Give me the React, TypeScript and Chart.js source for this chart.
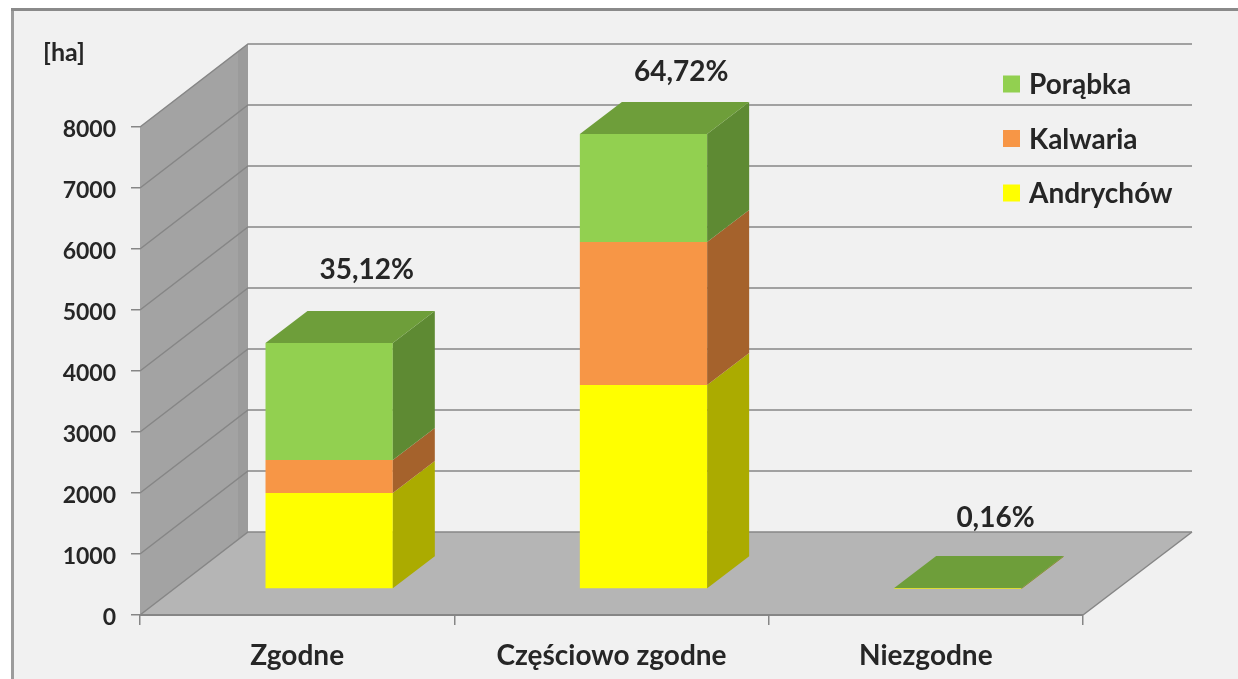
import React, { useEffect, useRef } from "react";
import { Chart, registerables } from "chart.js";

Chart.register(...registerables);

const categories = ["Zgodne", "Częściowo zgodne", "Niezgodne"];
const andrychow = [1574, 3344, 4];
const kalwaria = [541, 2344, 3];
const porabka = [1918, 1770, 11];
const shareLabels = ["35,12%", "64,72%", "0,16%"];
const seriesNames = ["Andrychów", "Kalwaria", "Porąbka"];
const unitLabel = "[ha]";

const FONT = "Lato, Carlito, Calibri, sans-serif";
const TEXT = "#262626";
const LINE = "#868686";
const FRONT = ["#FFFF00", "#F79646", "#92D050"];
const SIDE = ["#ABAB00", "#A5622C", "#5E8A33"];
const TOP = "#6E9E3A";
const DEPTH = { x: 108, y: -83 };
const BAR_DEPTH = { x: 42, y: -32 };
const BAR_SHIFT = { x: 32, y: -26 };
const LABEL_LIFT = [99, 88, 96];

function poly(ctx: CanvasRenderingContext2D, pts: number[][], fill: string) {
  ctx.beginPath();
  pts.forEach((p, i) => (i ? ctx.lineTo(p[0], p[1]) : ctx.moveTo(p[0], p[1])));
  ctx.closePath();
  ctx.fillStyle = fill;
  ctx.fill();
}

const scenePlugin = {
  id: "scene3d",
  beforeDraw(chart: any) {
    const { ctx, chartArea: a, scales, width, height } = chart;
    ctx.save();
    ctx.fillStyle = "#ffffff";
    ctx.fillRect(0, 0, width, height);
    ctx.fillStyle = "#f1f1f1";
    ctx.fillRect(12, 9, width, height);
    ctx.fillStyle = "#9c9c9c";
    ctx.fillRect(11, 9, 3, height);
    ctx.fillStyle = "#8a8a8a";
    ctx.fillRect(11, 8, width, 3);

    const backL = a.left + DEPTH.x;
    const backR = a.right + DEPTH.x + 1;
    poly(ctx, [[a.left, a.bottom], [backL, a.bottom + DEPTH.y], [backL, a.top + DEPTH.y], [a.left, a.top]], "#a3a3a3");
    const strip = 10;
    const k = DEPTH.y / DEPTH.x;
    poly(ctx, [
      [backL - strip, a.bottom + DEPTH.y - strip * k],
      [backL, a.bottom + DEPTH.y],
      [backL, a.top + DEPTH.y],
      [backL - strip, a.top + DEPTH.y - strip * k],
    ], "#9b9b9b");
    poly(ctx, [[a.left, a.bottom], [a.right, a.bottom], [backR, a.bottom + DEPTH.y], [backL, a.bottom + DEPTH.y]], "#b5b5b5");

    const yScale = scales.y;
    ctx.strokeStyle = LINE;
    ctx.lineWidth = 1.5;
    yScale.ticks.forEach((t: any) => {
      const y = yScale.getPixelForValue(t.value);
      ctx.beginPath();
      ctx.moveTo(a.left, y);
      ctx.lineTo(backL, y + DEPTH.y);
      ctx.lineTo(backR, y + DEPTH.y);
      ctx.stroke();
    });
    ctx.beginPath();
    ctx.moveTo(a.right, a.bottom);
    ctx.lineTo(backR, a.bottom + DEPTH.y);
    ctx.stroke();
    ctx.restore();
  },
  beforeDatasetsDraw(chart: any) {
    chart.ctx.save();
    chart.ctx.translate(BAR_SHIFT.x, BAR_SHIFT.y);
  },
  afterDatasetsDraw(chart: any) {
    const { ctx } = chart;
    chart.data.datasets.forEach((_: any, di: number) => {
      const meta = chart.getDatasetMeta(di);
      meta.data.forEach((el: any) => {
        const hw = el.width / 2;
        const r = el.x + hw;
        poly(ctx, [
          [r, el.y],
          [r + BAR_DEPTH.x, el.y + BAR_DEPTH.y],
          [r + BAR_DEPTH.x, el.base + BAR_DEPTH.y],
          [r, el.base],
        ], SIDE[di]);
        if (di === chart.data.datasets.length - 1) {
          poly(ctx, [
            [el.x - hw, el.y],
            [r, el.y],
            [r + BAR_DEPTH.x, el.y + BAR_DEPTH.y],
            [el.x - hw + BAR_DEPTH.x, el.y + BAR_DEPTH.y],
          ], TOP);
        }
      });
    });
    ctx.restore();
  },
  afterDraw(chart: any) {
    const { ctx, data } = chart;
    ctx.save();
    ctx.fillStyle = TEXT;
    ctx.textBaseline = "middle";

    const last = chart.getDatasetMeta(data.datasets.length - 1);
    ctx.font = `bold 28px ${FONT}`;
    ctx.textAlign = "center";
    shareLabels.forEach((s, i) => {
      const el = last.data[i];
      ctx.fillText(s, el.x + el.width / 2 + 6, el.y - LABEL_LIFT[i]);
    });

    ctx.font = `bold 25px ${FONT}`;
    ctx.fillText(unitLabel, 64, 53);

    ctx.textAlign = "left";
    ctx.font = `bold 28px ${FONT}`;
    [...data.datasets].reverse().forEach((d: any, i: number) => {
      const cy = 84 + i * 54.5;
      ctx.fillStyle = d.backgroundColor;
      ctx.fillRect(1003, cy - 8.5, 17, 17);
      ctx.fillStyle = TEXT;
      ctx.fillText(d.label, 1029, cy + 1);
    });
    ctx.restore();
  },
};

export default function App() {
  const ref = useRef<HTMLCanvasElement>(null);
  useEffect(() => {
    const chart = new Chart(ref.current as HTMLCanvasElement, {
      type: "bar",
      data: {
        labels: categories,
        datasets: [andrychow, kalwaria, porabka].map((values, i) => ({
          label: seriesNames[i],
          data: values,
          backgroundColor: FRONT[i],
          borderWidth: 0,
          barPercentage: 0.405,
          categoryPercentage: 1,
          clip: false,
        })),
      },
      options: {
        responsive: false,
        animation: false,
        events: [],
        layout: { padding: { top: 127, right: 155, left: 0, bottom: 0 } },
        plugins: { legend: { display: false }, tooltip: { enabled: false }, title: { display: false } },
        scales: {
          x: {
            stacked: true,
            offset: true,
            afterFit: (s: any) => { s.height = 64; },
            grid: { display: true, offset: true, drawOnChartArea: false, drawTicks: true, tickLength: 10, color: LINE, lineWidth: 1.5 },
            border: { display: true, color: LINE, width: 2 },
            ticks: {
              color: TEXT,
              font: { family: FONT, size: 28, weight: "bold" },
              padding: 14,
              maxRotation: 0,
              autoSkip: false,
            },
          },
          y: {
            stacked: true,
            min: 0,
            max: 8000,
            afterFit: (s: any) => { s.width = 140; },
            afterUpdate: (s: any) => {
              // the reference's axis numbers sit slightly below their tick marks
              const base = Object.getPrototypeOf(s).drawLabels;
              s.drawLabels = function (area: any) {
                this.ctx.save();
                this.ctx.translate(0, 3);
                base.call(this, area);
                this.ctx.restore();
              };
            },
            grid: { display: true, drawOnChartArea: false, drawTicks: true, tickLength: 9, color: LINE, lineWidth: 1.5 },
            border: { display: false },
            ticks: {
              stepSize: 1000,
              callback: (v: any) => String(v),
              color: TEXT,
              font: { family: FONT, size: 23, weight: "bold" },
              padding: 15,
              autoSkip: false,
            },
          },
        },
      },
      plugins: [scenePlugin],
    } as any);
    return () => chart.destroy();
  }, []);
  return (
    <div style={{ position: "absolute", left: 0, top: 0, width: 1238, height: 679, overflow: "hidden" }}>
      <canvas ref={ref} width={1238} height={679} style={{ display: "block", filter: "blur(0.5px)" }} />
    </div>
  );
}
